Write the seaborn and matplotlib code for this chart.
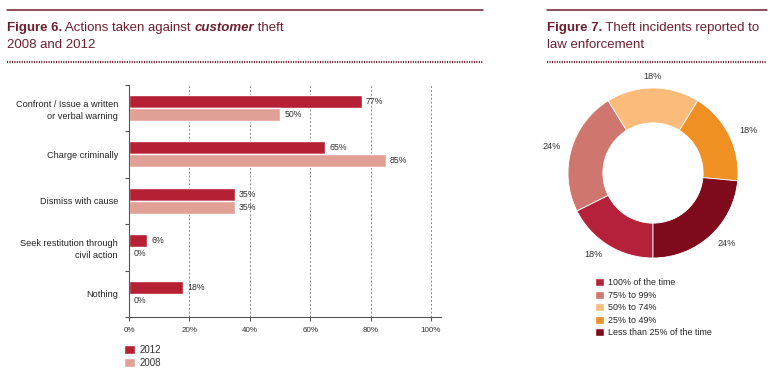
import matplotlib
matplotlib.use("Agg")
import matplotlib.pyplot as plt
from matplotlib.lines import Line2D
from matplotlib.patches import Patch
import pandas as pd
import seaborn as sns

# Figure 6 data
actions = [
    "Confront / Issue a written\nor verbal warning",
    "Charge criminally",
    "Dismiss with cause",
    "Seek restitution through\ncivil action",
    "Nothing",
]
years = ["2012", "2008"]
pct_2012 = [77, 65, 35, 6, 18]
pct_2008 = [50, 85, 35, 0, 0]
x_ticks = [0, 20, 40, 60, 80, 100]

# Figure 7 data
report_labels = [
    "100% of the time",
    "75% to 99%",
    "50% to 74%",
    "25% to 49%",
    "Less than 25% of the time",
]
report_pct = [18, 24, 18, 18, 24]

bar_colors = ["#B52034", "#E0A096"]
pie_colors = ["#B5213A", "#CF776E", "#FBBB7A", "#F08F22", "#7F0A1C"]
MAROON = "#6E1F2D"
TEXT = "#333333"

sns.set_theme(style="ticks")
plt.rcParams["font.family"] = ["Liberation Sans", "DejaVu Sans"]

W, H = 775, 377
fig = plt.figure(figsize=(W / 100, H / 100), dpi=100)


def fx(px):
    return px / W


def fy(py):
    return 1 - py / H


# ---- bar chart ----
ax = fig.add_axes([fx(129), fy(317), (441 - 129) / W, (317 - 84.5) / H])
df = pd.DataFrame({
    "action": actions * 2,
    "year": ["2012"] * len(actions) + ["2008"] * len(actions),
    "pct": pct_2012 + pct_2008,
})
sns.barplot(data=df, x="pct", y="action", hue="year", hue_order=years,
            palette=bar_colors, orient="h", width=0.56, saturation=1,
            legend=False, ax=ax)
for cont in ax.containers:
    ax.bar_label(cont, fmt="{:.0f}%", padding=3, fontsize=6.3, color=TEXT)

ax.set_xlim(0, 103.3)
ax.set_xticks(x_ticks)
ax.set_xticklabels([f"{t}%" for t in x_ticks], fontsize=5.8, color=TEXT)
ax.xaxis.grid(True, linestyle=(0, (2, 2)), color="#8a8a8a", linewidth=0.7)
ax.set_axisbelow(True)
ax.set_xlabel("")
ax.set_ylabel("")
for s in ["top", "right"]:
    ax.spines[s].set_visible(False)
for s in ["left", "bottom"]:
    ax.spines[s].set_color("#555555")
    ax.spines[s].set_linewidth(0.8)
ax.tick_params(axis="y", which="major", length=0, pad=8, labelsize=6.6, labelcolor="#222222")
for lbl in ax.get_yticklabels():
    lbl.set_linespacing(1.45)
ax.set_yticks([i - 0.5 for i in range(len(actions) + 1)], minor=True)
ax.tick_params(axis="y", which="minor", length=3, color="#555555", width=0.8)
ax.tick_params(axis="x", length=3, color="#555555", width=0.8, pad=4)

fig.legend(handles=[Patch(facecolor=c) for c in bar_colors], labels=years,
           loc="upper left", bbox_to_anchor=(fx(124), fy(345)), frameon=False,
           fontsize=7, handlelength=1.15, handleheight=1.0, handletextpad=0.4,
           labelspacing=0.3, borderpad=0, borderaxespad=0, labelcolor=TEXT)

# ---- donut ----
pax = fig.add_axes([fx(653 - 106.25), fy(173 + 106.25), 212.5 / W, 212.5 / H])
wedges, texts = pax.pie(report_pct, colors=pie_colors, startangle=-90,
                        counterclock=False,
                        labels=[f"{v}%" for v in report_pct], labeldistance=1.13,
                        wedgeprops=dict(width=0.41, edgecolor="white", linewidth=0.6),
                        textprops=dict(fontsize=6.6, color=TEXT))
for t in texts:
    if abs(t.get_position()[0]) < 0.05:
        t.set_ha("center")

fig.legend(handles=[Patch(facecolor=c) for c in pie_colors], labels=report_labels,
           loc="upper left", bbox_to_anchor=(fx(595), fy(278)), frameon=False,
           fontsize=6.4, handlelength=1.05, handleheight=1.05, handletextpad=0.4,
           labelspacing=0.38, borderpad=0, borderaxespad=0, labelcolor="#222222")

# ---- headers ----
renderer = fig.canvas.get_renderer()


def title_run(x_px, y_px, parts):
    x = fx(x_px)
    for text, weight, style in parts:
        t = fig.text(x, fy(y_px), text, fontsize=9.5, fontweight=weight,
                     fontstyle=style, color=MAROON, va="baseline")
        x = t.get_window_extent(renderer=renderer).x1 / W


title_run(7, 31, [("Figure 6.", "bold", "normal"),
                  (" Actions taken against ", "normal", "normal"),
                  ("customer", "bold", "italic"),
                  (" theft", "normal", "normal")])
title_run(7, 48, [("2008 and 2012", "normal", "normal")])
title_run(547, 31, [("Figure 7.", "bold", "normal"),
                    (" Theft incidents reported to", "normal", "normal")])
title_run(547, 48, [("law enforcement", "normal", "normal")])

for x0, x1 in [(7, 483), (547, 767)]:
    fig.add_artist(Line2D([fx(x0), fx(x1)], [fy(10), fy(10)], color=MAROON,
                          linewidth=1.1, transform=fig.transFigure))
    fig.add_artist(Line2D([fx(x0), fx(x1)], [fy(61.5), fy(61.5)], color=MAROON,
                          linewidth=1.6, linestyle=(0, (0.5, 0.6)),
                          transform=fig.transFigure))

fig.savefig("out.png", dpi=100)
